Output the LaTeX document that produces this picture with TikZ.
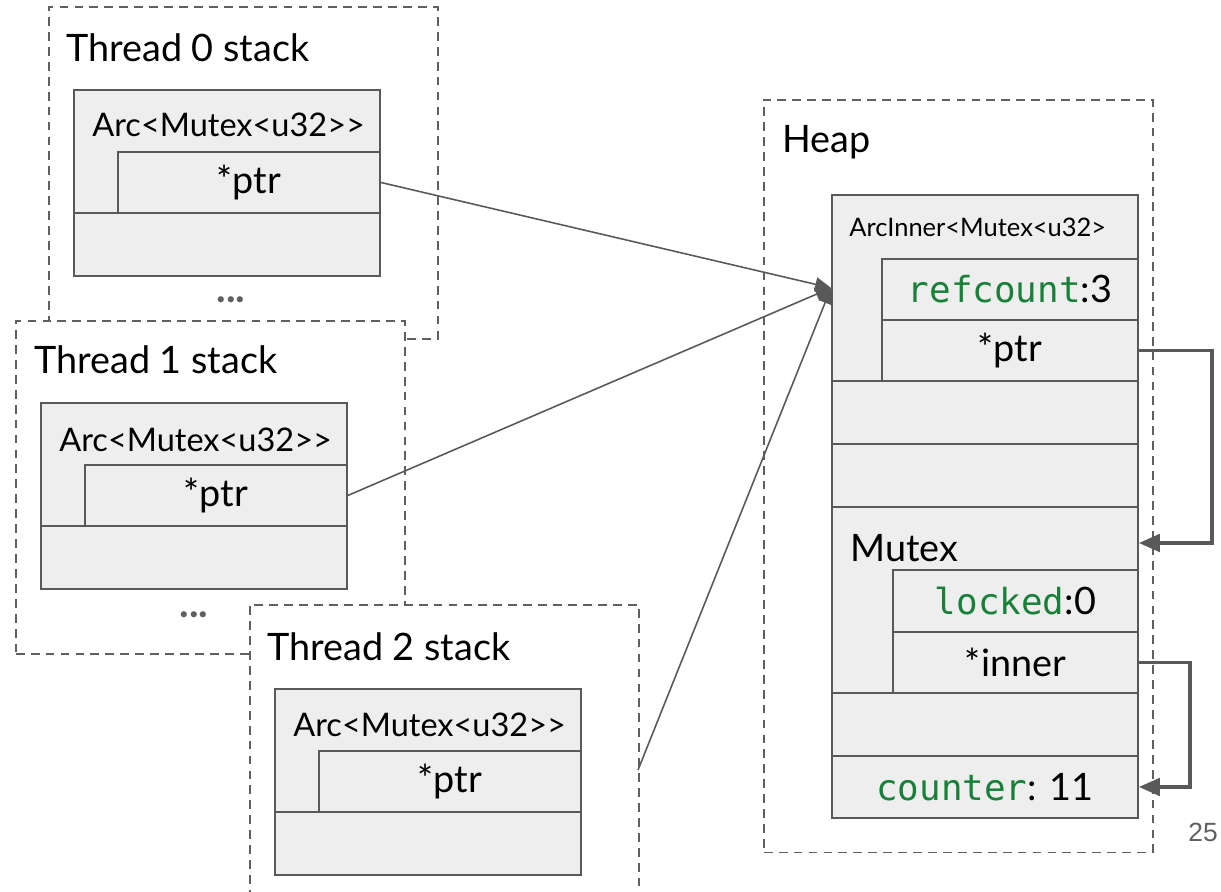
\documentclass[tikz,border=0pt]{standalone}
\usepackage{fontspec}
\setmainfont{Lato}
\setmonofont[Scale=0.95]{DejaVu Sans Mono}
\newfontfamily\slidefont{Liberation Sans}
\usetikzlibrary{positioning,arrows.meta}
\definecolor{cellfill}{HTML}{EEEEEE}
\definecolor{cellline}{HTML}{595959}
\definecolor{boxline}{HTML}{5F5F5F}
\definecolor{fieldgreen}{HTML}{188038}
\newcommand{\fld}[1]{\texttt{\textcolor{fieldgreen}{#1}}}

\begin{document}
\begin{tikzpicture}[x=0.02cm, y=-0.02cm,
  stackbox/.style={draw=boxline, fill=white, dash pattern=on 5pt off 3.5pt,
    line width=0.9pt, anchor=north west, inner sep=0pt, minimum width=7.78cm},
  cell/.style={draw=cellline, fill=cellfill, line width=1.1pt,
    anchor=north west, inner sep=0pt, font=\fontsize{21.5}{26}\selectfont},
  wide/.style={cell, minimum width=6.12cm},
  field/.style={cell, minimum width=5.24cm, minimum height=1.22cm},
  title/.style={anchor=west, inner sep=0pt, font=\fontsize{21.5}{26}\selectfont},
  hdr/.style={anchor=west, inner sep=0pt, font=\fontsize{18.5}{22}\selectfont},
  dots/.style={text=boxline, font=\bfseries\fontsize{23}{23}\selectfont},
  ptr/.style={draw=cellline, line width=0.9pt, -{Triangle[length=9pt,width=8pt]}},
  link/.style={draw=cellline, line width=2pt, -{Triangle[length=12pt,width=10pt]}},
  pagenum/.style={text=boxline, font=\slidefont\fontsize{15}{15}\selectfont}]
  \useasboundingbox (0,0) rectangle (1221,892);

  % heap
  \node[stackbox, minimum height=15.06cm] (heap) at (763,99) {};
  \node[title] (heapt) at (782,142) {Heap};
  \node[wide, minimum height=3.72cm] (arcin) at (831,194) {};
  \node[hdr, font=\fontsize{14.5}{17}\selectfont] (arcint) at (849,227) {ArcInner<Mutex<u32>};
  \node[field, minimum width=5.12cm] (rc) at (881,258) {\fld{refcount}:3};
  \node[field, minimum width=5.12cm] (hptr) at (881,319) {*ptr};
  \node[wide, minimum height=1.26cm] (hrowa) at (831,380) {};
  \node[wide, minimum height=1.26cm] (hrowb) at (831,443) {};
  \node[wide, minimum height=3.72cm] (mutex) at (831,506) {};
  \node[title] (mutext) at (850,548) {Mutex};
  \node[field, minimum width=4.9cm, minimum height=1.24cm] (locked) at (892,569) {\fld{locked}:0};
  \node[field, minimum width=4.9cm] (innr) at (892,631) {*inner};
  \node[wide, minimum height=1.26cm] (hrowc) at (831,692) {};
  \node[wide, minimum height=1.24cm] (counter) at (831,755) {\fld{counter}: 11};

  % thread 0
  \node[stackbox, minimum height=6.64cm] (stack0) at (48,6) {};
  \node[title] (stack0t) at (66,48) {Thread 0 stack};
  \node[wide, minimum height=2.46cm] (arc0) at (73,89) {};
  \node[hdr] (arc0t) at (92,125) {Arc<Mutex<u32>{}>};
  \node[field] (ptr0) at (117,151) {*ptr};
  \node[wide, minimum height=1.26cm] (row0) at (73,212) {};
  \node[dots] (dots0) at (231,300) {...};

  % thread 1
  \node[stackbox, minimum height=6.66cm] (stack1) at (15,320) {};
  \node[title] (stack1t) at (34,360) {Thread 1 stack};
  \node[wide, minimum height=2.46cm] (arc1) at (40,402) {};
  \node[hdr] (arc1t) at (59,440) {Arc<Mutex<u32>{}>};
  \node[field] (ptr1) at (84,464) {*ptr};
  \node[wide, minimum height=1.26cm] (row1) at (40,525) {};
  \node[dots] (dots1) at (194,615) {...};

  % thread 2
  \node[stackbox, minimum height=5.92cm] (stack2) at (249,604) {};
  \node[title] (stack2t) at (267,647) {Thread 2 stack};
  \node[wide, minimum height=2.46cm] (arc2) at (274,688) {};
  \node[hdr] (arc2t) at (293,725) {Arc<Mutex<u32>{}>};
  \node[field] (ptr2) at (318,750) {*ptr};
  \node[wide, minimum height=1.26cm] (row2) at (274,811) {};

  \coordinate (t2out) at (638,770);
  \path
    (ptr0.east) edge[ptr] (arcin.west)
    (ptr1.east) edge[ptr] (arcin.west)
    (t2out)     edge[ptr] (arcin.west);

  \draw[link] (hptr.east) -- ++(73,0) |- ([yshift=-0.74cm]mutex.north east);
  \draw[link] (innr.east) -- ++(51,0) |- (counter.east);

  \node[pagenum] (pnum) at (1203,832) {25};
\end{tikzpicture}
\end{document}
